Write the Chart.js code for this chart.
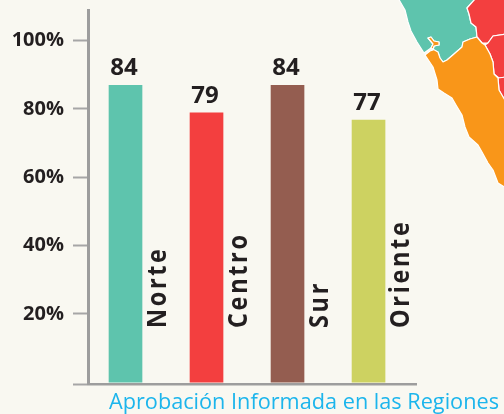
<!DOCTYPE html>
<html>
<head>
<meta charset="utf-8">
<style>
html,body{margin:0;padding:0;background:#f9f8f1;overflow:hidden}
#wrap{position:relative;width:504px;height:414px}
#map{position:absolute;left:0;top:0}
canvas{position:absolute;left:0;top:0}
</style>
<script src="https://cdn.jsdelivr.net/npm/chart.js@4"></script>
</head>
<body>
<div id="wrap">
<svg id="map" width="504" height="414" viewBox="0 0 504 414">
  <g stroke="#ffffff" stroke-width="1.2" stroke-linejoin="round">
    <path fill="#5ec4ad" d="M398,-2 L405,10 L408,22 L411,31 L417,42 L424,53 L431,48 L433,44 L428,38 L431,37 L434,41 L439,42 L439,45 L434,46 L433,50 L438,52 L440,58 L443,62 L447,60 L454,54 L462,47 L463,42 L470,39 L477,37 L476,27 L471,23 L469,14 L467,8 L476,-2 Z"/>
    <path fill="#f33f3f" d="M476,-2 L467,8 L469,14 L471,23 L476,27 L477,37 L482,43 L488,43 L493,36 L506,34 L506,-2 Z"/>
    <path fill="#f33f3f" d="M488,43 L485,45 L490,54 L493,62 L494,74 L499,78 L506,77 L506,34 L493,36 Z"/>
    <path fill="#f33f3f" d="M498,78 L499,90 L506,102 L506,77 Z"/>
    <path fill="#f99619" d="M425,55 L430,51 L433,50 L434,46 L439,45 L439,42 L434,41 L431,37 L428,38 L433,44 L431,48 L438,52 L440,58 L443,62 L447,60 L454,54 L462,47 L463,42 L470,39 L477,37 L482,43 L485,45 L490,54 L493,62 L494,74 L498,78 L499,90 L506,102 L506,188 L498,183 L493,170 L488,163 L482,152 L478,145 L469,137 L465,127 L462,115 L456,105 L452,98 L444,93 L438,89 L437,80 L433,67 Z"/>
  </g>
</svg>
<canvas id="c" width="504" height="414"></canvas>
</div>
<script>
const categories = ["Norte", "Centro", "Sur", "Oriente"];
const printedValues = [84, 79, 84, 77];
const barHeights = [86.9, 78.8, 86.9, 76.7];
const barColors = ["#5ec4ad", "#f33f3f", "#945d50", "#cdd261"];
const tickValues = [-0.5, 20, 40, 60, 80, 100, 108.9];
const tickLabels = ["", "20%", "40%", "60%", "80%", "100%", ""];
const caption = "Aprobación Informada en las Regiones";

const fontFam = '"Open Sans", "Noto Sans", sans-serif';

const annotate = {
  id: "annotate",
  afterDatasetsDraw(chart) {
    const { ctx } = chart;
    const meta = chart.getDatasetMeta(0);
    ctx.save();
    ctx.fillStyle = "#231f20";
    meta.data.forEach((bar, i) => {
      ctx.font = "bold 24px " + fontFam;
      ctx.textAlign = "center";
      ctx.textBaseline = "alphabetic";
      ctx.fillText(String(printedValues[i]), bar.x - 1.5, bar.y - 10);
      ctx.save();
      ctx.translate(bar.x + 40.5, chart.scales.y.getPixelForValue(-0.5) - 56);
      ctx.rotate(-Math.PI / 2);
      ctx.scale(0.9, 1);
      ctx.font = "bold 26px " + fontFam;
      ctx.textAlign = "left";
      ctx.letterSpacing = "3px";
      ctx.fillText(categories[i], 0, 0);
      ctx.restore();
    });
    ctx.fillStyle = "#1cb5ec";
    ctx.font = "21.7px " + fontFam;
    ctx.textAlign = "left";
    ctx.fillText(caption, 109, 409);
    ctx.restore();
  }
};

new Chart(document.getElementById("c"), {
  type: "bar",
  data: {
    datasets: [{
      data: barHeights.map((v, i) => ({ x: i, y: v })),
      backgroundColor: barColors,
      barThickness: 33,
      borderWidth: 0
    }]
  },
  plugins: [annotate],
  options: {
    responsive: false,
    animation: false,
    layout: { padding: { left: 0, right: 88, top: 10, bottom: 30 } },
    plugins: { legend: { display: false }, tooltip: { enabled: false } },
    scales: {
      x: {
        type: "linear",
        offset: false,
        min: -0.463,
        max: 3.586,
        ticks: { display: false },
        grid: { display: false, drawTicks: false },
        border: { display: true, color: "#9d9d9d", width: 2.5 }
      },
      y: {
        min: -0.5,
        max: 108.9,
        afterBuildTicks(scale) { scale.ticks = tickValues.map(v => ({ value: v })); },
        afterFit(scale) { scale.width = 88; },
        ticks: {
          padding: 9,
          color: "#231f20",
          font: (c) => ({ family: fontFam, weight: "bold", size: tickLabels[c.index] ? 20 : 1 }),
          callback(value) { return tickLabels[tickValues.indexOf(value)]; }
        },
        grid: {
          drawOnChartArea: false,
          drawTicks: true,
          tickLength: 15,
          tickWidth: 2,
          tickColor: (c) => (c.tick && c.tick.value > 100 ? "rgba(0,0,0,0)" : "#a6a6a6"),
          color: "#a6a6a6"
        },
        border: { display: true, color: "#9d9d9d", width: 3 }
      }
    }
  }
});
</script>
</body>
</html>
